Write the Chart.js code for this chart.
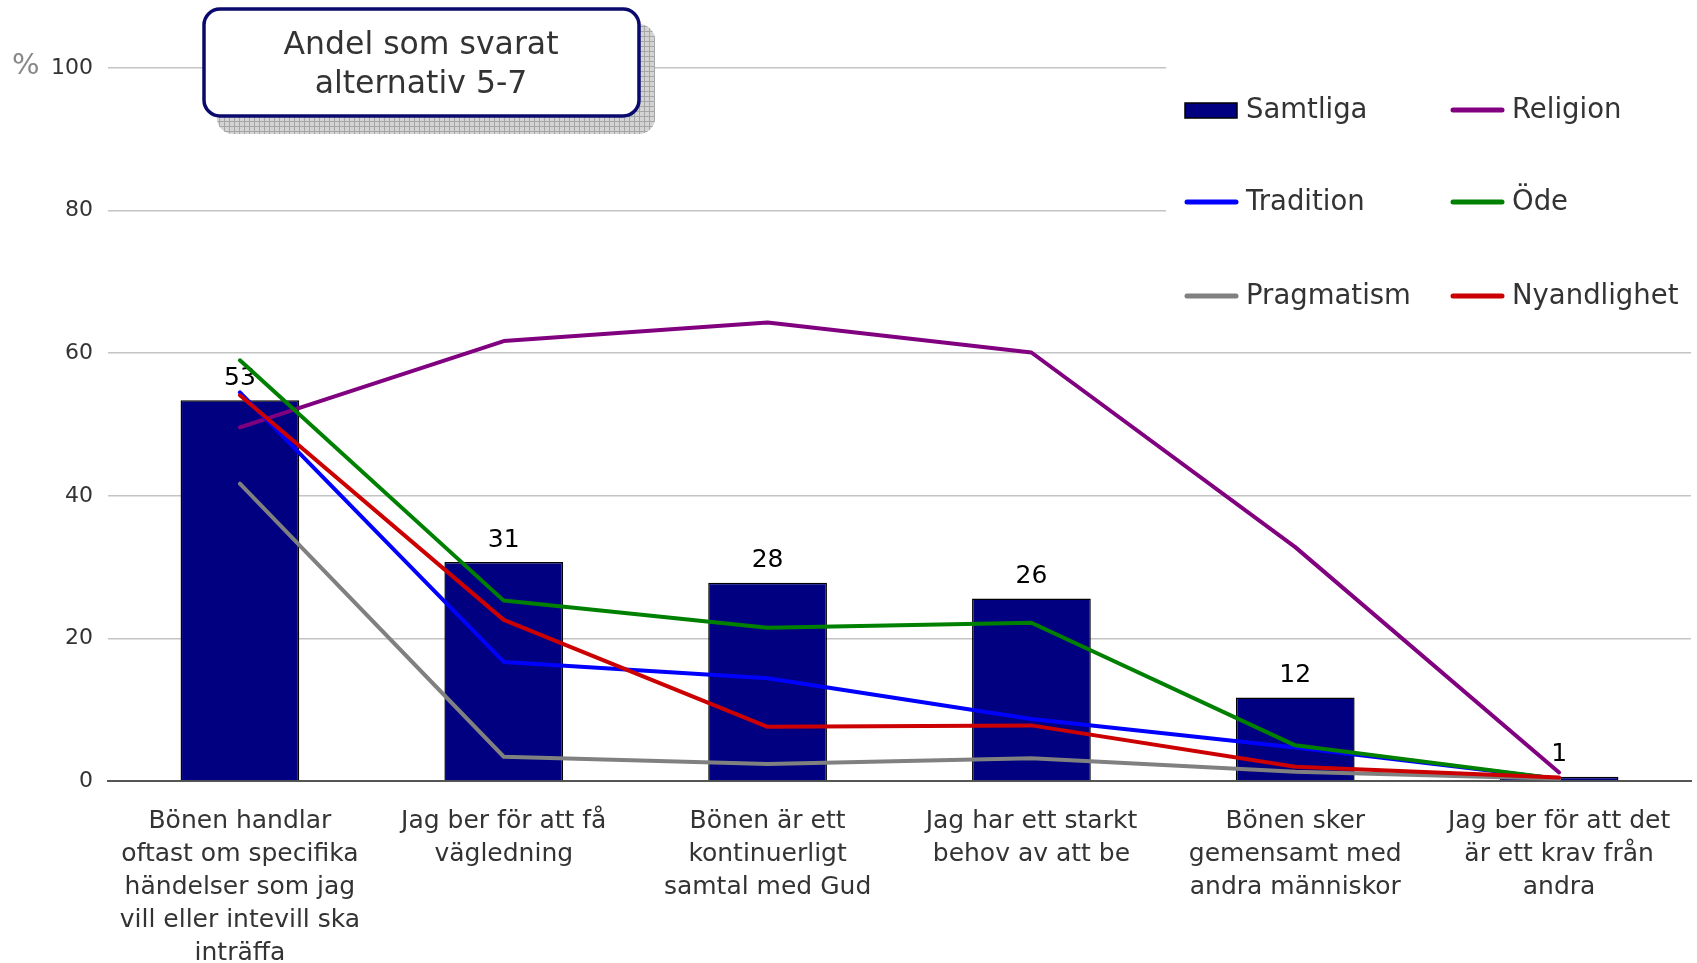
<!DOCTYPE html>
<html>
<head>
<meta charset="utf-8">
<script src="https://cdn.jsdelivr.net/npm/chart.js@4"></script>
<style>
  html, body { margin: 0; padding: 0; background: #fff; }
  canvas { display: block; }
</style>
</head>
<body>
<canvas id="bonChart" width="1697" height="963"></canvas>
<script>
// kategorier (flerradiga etiketter)
const kategorier = [
  ['Bönen handlar', 'oftast om specifika', 'händelser som jag', 'vill eller intevill ska', 'inträffa'],
  ['Jag ber för att få', 'vägledning'],
  ['Bönen är ett', 'kontinuerligt', 'samtal med Gud'],
  ['Jag har ett starkt', 'behov av att be'],
  ['Bönen sker', 'gemensamt med', 'andra människor'],
  ['Jag ber för att det', 'är ett krav från', 'andra']
];
const samtliga    = [53.4, 30.7, 27.8, 25.6, 11.7, 0.6];
const religion    = [49.6, 61.7, 64.3, 60.1, 32.8, 1.2];
const tradition   = [54.5, 16.7, 14.4, 8.7, 4.7, 0.3];
const ode         = [59.0, 25.3, 21.5, 22.2, 5.0, 0.3];
const pragmatism  = [41.7, 3.4, 2.4, 3.2, 1.3, 0.3];
const nyandlighet = [54.1, 22.6, 7.6, 7.8, 2.0, 0.5];
const yMin = 0, yMax = 100, yStep = 20;
const titelRader = ['Andel som svarat', 'alternativ 5-7'];

const FONT = "'DejaVu Sans', Verdana, sans-serif";

function linje(label, data, color, order) {
  return {
    type: 'line', label, data, order,
    borderColor: color, backgroundColor: color,
    borderWidth: 4, pointRadius: 0, pointHoverRadius: 0,
    borderCapStyle: 'round', borderJoinStyle: 'round',
    tension: 0
  };
}

function rundRekt(ctx, x, y, w, h, r) {
  ctx.beginPath();
  ctx.moveTo(x + r, y);
  ctx.arcTo(x + w, y, x + w, y + h, r);
  ctx.arcTo(x + w, y + h, x, y + h, r);
  ctx.arcTo(x, y + h, x, y, r);
  ctx.arcTo(x, y, x + w, y, r);
  ctx.closePath();
}

// etiketter ovanför staplarna, ritas innan linjerna
const stapelEtiketter = {
  id: 'stapelEtiketter',
  afterDatasetDraw(chart, args) {
    if (args.index !== 0) return;
    const ctx = chart.ctx;
    ctx.save();
    ctx.font = '25px ' + FONT;
    ctx.fillStyle = '#000';
    ctx.textAlign = 'center';
    ctx.textBaseline = 'middle';
    args.meta.data.forEach((bar, i) => {
      ctx.fillText(String(Math.round(samtliga[i])), bar.x, bar.y - 22);
    });
    ctx.restore();
  }
};

// rubrikruta, %-tecken och förklaring i två kolumner
const dekor = {
  id: 'dekor',
  afterDraw(chart) {
    const ctx = chart.ctx;
    ctx.save();

    // %-tecken
    ctx.font = '29px ' + FONT;
    ctx.fillStyle = '#888';
    ctx.textAlign = 'left';
    ctx.textBaseline = 'middle';
    ctx.fillText('%', 12, 66);

    // skugga med rutmönster
    rundRekt(ctx, 217, 24, 438, 110, 16);
    ctx.save();
    ctx.clip();
    ctx.fillStyle = '#d4d4d4';
    ctx.fillRect(217, 24, 438, 110);
    ctx.strokeStyle = '#a6a6a6';
    ctx.lineWidth = 1;
    for (let x = 219; x < 655; x += 5) {
      ctx.beginPath(); ctx.moveTo(x + 0.5, 24); ctx.lineTo(x + 0.5, 134); ctx.stroke();
    }
    for (let y = 26; y < 134; y += 5) {
      ctx.beginPath(); ctx.moveTo(217, y + 0.5); ctx.lineTo(655, y + 0.5); ctx.stroke();
    }
    ctx.restore();

    // rubrikruta
    rundRekt(ctx, 204, 9, 435, 107, 16);
    ctx.fillStyle = '#fff';
    ctx.fill();
    ctx.lineWidth = 3.5;
    ctx.strokeStyle = '#0a0a6e';
    ctx.stroke();
    ctx.font = '31.5px ' + FONT;
    ctx.fillStyle = '#333';
    ctx.textAlign = 'center';
    ctx.fillText(titelRader[0], 421, 46);
    ctx.fillText(titelRader[1], 421, 85);

    // förklaring
    ctx.fillStyle = '#fff';
    ctx.fillRect(1166, 45, 531, 290);
    const kol = [1185, 1451];
    const rad = [110, 202, 296];
    ctx.font = '27.5px ' + FONT;
    ctx.textAlign = 'left';
    chart.data.datasets.forEach((ds, i) => {
      const x = kol[i % 2], y = rad[Math.floor(i / 2)];
      if (ds.type === 'bar') {
        ctx.fillStyle = ds.backgroundColor;
        ctx.fillRect(x, y - 7, 52, 15);
        ctx.lineWidth = 1.5;
        ctx.strokeStyle = '#000';
        ctx.strokeRect(x, y - 7, 52, 15);
      } else {
        ctx.beginPath();
        ctx.moveTo(x + 2, y);
        ctx.lineTo(x + 51, y);
        ctx.lineWidth = 5;
        ctx.lineCap = 'round';
        ctx.strokeStyle = ds.borderColor;
        ctx.stroke();
      }
      ctx.fillStyle = '#333';
      ctx.fillText(ds.label, x + 61, y + 1);
    });
    ctx.restore();
  }
};

const ctx = document.getElementById('bonChart').getContext('2d');
const bonChart = new Chart(ctx, {
  data: {
    labels: kategorier,
    datasets: [
      {
        type: 'bar', label: 'Samtliga', data: samtliga, order: 6,
        backgroundColor: '#000080', borderColor: '#000', borderWidth: 1.5,
        barPercentage: 0.45, categoryPercentage: 1
      },
      linje('Religion', religion, '#800080', 5),
      linje('Tradition', tradition, '#0000ff', 4),
      linje('Öde', ode, '#008000', 3),
      linje('Pragmatism', pragmatism, '#808080', 2),
      linje('Nyandlighet', nyandlighet, '#cc0000', 1)
    ]
  },
  options: {
    responsive: false,
    animation: false,
    layout: { padding: { top: 68, right: 6, left: 0, bottom: 0 } },
    plugins: {
      legend: { display: false },
      title: { display: false },
      tooltip: { enabled: false }
    },
    scales: {
      x: {
        grid: { display: false, drawTicks: false },
        border: { display: true, color: '#555', width: 2 },
        ticks: {
          autoSkip: false, maxRotation: 0, minRotation: 0,
          padding: 24, color: '#333',
          font: { family: FONT, size: 25, lineHeight: 1.32 }
        },
        afterFit(scale) { scale.height = 182; }
      },
      y: {
        min: yMin, max: yMax,
        grid: { color: '#c4c4c4', lineWidth: 1.5, drawTicks: false },
        border: { display: false },
        ticks: {
          stepSize: yStep, padding: 15, color: '#333',
          font: { family: FONT, size: 22 }
        },
        afterFit(scale) { scale.width = 108; }
      }
    }
  },
  plugins: [stapelEtiketter, dekor]
});
</script>
</body>
</html>
